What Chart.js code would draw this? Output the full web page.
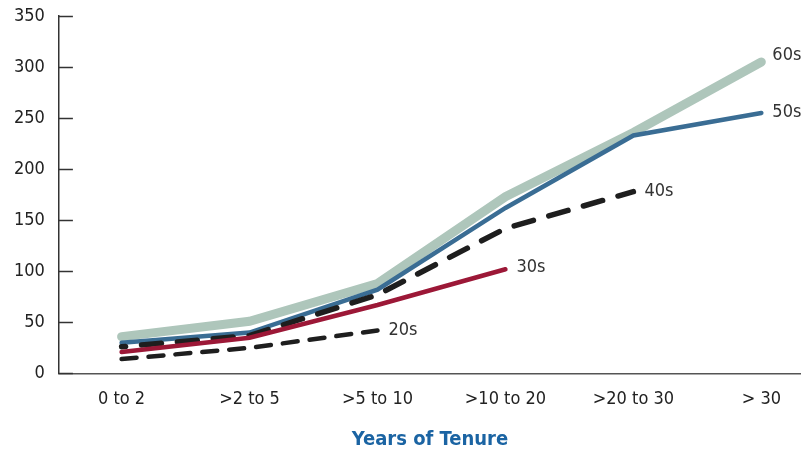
<!DOCTYPE html>
<html>
<head>
<meta charset="utf-8">
<script src="https://cdn.jsdelivr.net/npm/chart.js@4.4.1/dist/chart.umd.min.js"></script>
<style>
  html, body { margin: 0; padding: 0; background: #fff; }
  #wrap { width: 801px; height: 452px; }
</style>
</head>
<body>
<div id="wrap"><canvas id="c" width="801" height="452"></canvas></div>
<script>
// Tenure categories along the x axis
const categories = ['0 to 2', '>2 to 5', '>5 to 10', '>10 to 20', '>20 to 30', '> 30'];

// Values by age group (each group ends where its tenure runs out)
const s20s = [14, 25, 42];
const s30s = [21, 35, 67, 102];
const s40s = [26, 37, 77, 142, 178];
const s50s = [30, 40, 82, 162, 233, 255];
const s60s = [36, 51, 88, 173, 236, 305];

const yTicks = [0, 50, 100, 150, 200, 250, 300, 350];

const FONT = '"Liberation Sans Narrow", "DejaVu Sans Condensed", "Roboto", sans-serif';

function pts(arr) { return arr.map((v, i) => ({ x: i, y: v })); }

// Line styles; labelDy nudges the end label up from the last point
const seriesDefs = [
  { label: '20s', data: s20s, color: '#1e1e1e', width: 4.5, dash: [15, 12], dashOffset: 0, labelDy: 0 },
  { label: '30s', data: s30s, color: '#9c1837', width: 4.5, dash: [], dashOffset: 0, labelDy: -2 },
  { label: '40s', data: s40s, color: '#1e1e1e', width: 5.5, dash: [20, 16], dashOffset: 16, labelDy: 0 },
  { label: '50s', data: s50s, color: '#3a6d94', width: 4.5, dash: [], dashOffset: 0, labelDy: -1 },
  { label: '60s', data: s60s, color: '#aec6bb', width: 9, dash: [], dashOffset: 0, labelDy: -7 }
];

// Age-group names written just right of each line's last point
const endLabels = {
  id: 'endLabels',
  afterDatasetsDraw(chart) {
    const ctx = chart.ctx;
    ctx.save();
    ctx.font = '18px ' + FONT;
    ctx.fillStyle = '#333';
    ctx.textBaseline = 'middle';
    ctx.textAlign = 'left';
    chart.data.datasets.forEach((ds, i) => {
      const meta = chart.getDatasetMeta(i);
      const last = meta.data[meta.data.length - 1];
      ctx.fillText(ds.label, last.x + 11, last.y + seriesDefs[i].labelDy);
    });
    ctx.restore();
  }
};

// Short tick marks pointing into the plot from the y axis
const innerTicks = {
  id: 'innerTicks',
  afterDraw(chart) {
    const y = chart.scales.y;
    const ctx = chart.ctx;
    ctx.save();
    ctx.strokeStyle = '#333';
    ctx.lineWidth = 1.5;
    yTicks.forEach(v => {
      const py = Math.round(y.getPixelForValue(v)) + 0.5;
      ctx.beginPath();
      ctx.moveTo(y.right, py);
      ctx.lineTo(y.right + 14, py);
      ctx.stroke();
    });
    ctx.restore();
  }
};

new Chart(document.getElementById('c'), {
  type: 'line',
  data: {
    datasets: seriesDefs.map(s => ({
      label: s.label,
      data: pts(s.data),
      borderColor: s.color,
      borderWidth: s.width,
      borderDash: s.dash,
      borderDashOffset: s.dashOffset,
      borderCapStyle: 'round',
      borderJoinStyle: 'miter',
      pointRadius: 0,
      tension: 0,
      fill: false
    }))
  },
  options: {
    responsive: false,
    animation: false,
    layout: { padding: { top: 0, right: 0, left: 0, bottom: 0 } },
    plugins: { legend: { display: false }, tooltip: { enabled: false } },
    scales: {
      x: {
        type: 'linear',
        min: -0.49,
        max: 5.31,
        afterBuildTicks(scale) { scale.ticks = categories.map((c, i) => ({ value: i })); },
        ticks: {
          callback: (v) => categories[v],
          color: '#222',
          font: { family: FONT, size: 18 },
          padding: 15,
          maxRotation: 0,
          autoSkip: false
        },
        grid: { display: false, drawTicks: false },
        border: { display: true, color: '#555', width: 1.5 },
        title: {
          display: true,
          text: 'Years of Tenure',
          color: '#1b64a3',
          font: { family: FONT, size: 20, weight: 'bold' },
          padding: { top: 3, bottom: 0 }
        }
      },
      y: {
        min: 0,
        max: 350,
        afterBuildTicks(scale) { scale.ticks = yTicks.map(v => ({ value: v })); },
        afterFit(scale) { scale.paddingTop = 16; scale.paddingBottom = 10; },
        ticks: {
          color: '#222',
          font: { family: FONT, size: 18 },
          padding: 14
        },
        grid: { display: false, drawTicks: false },
        border: { display: true, color: '#333', width: 1.5 }
      }
    }
  },
  plugins: [endLabels, innerTicks]
});
</script>
</body>
</html>
